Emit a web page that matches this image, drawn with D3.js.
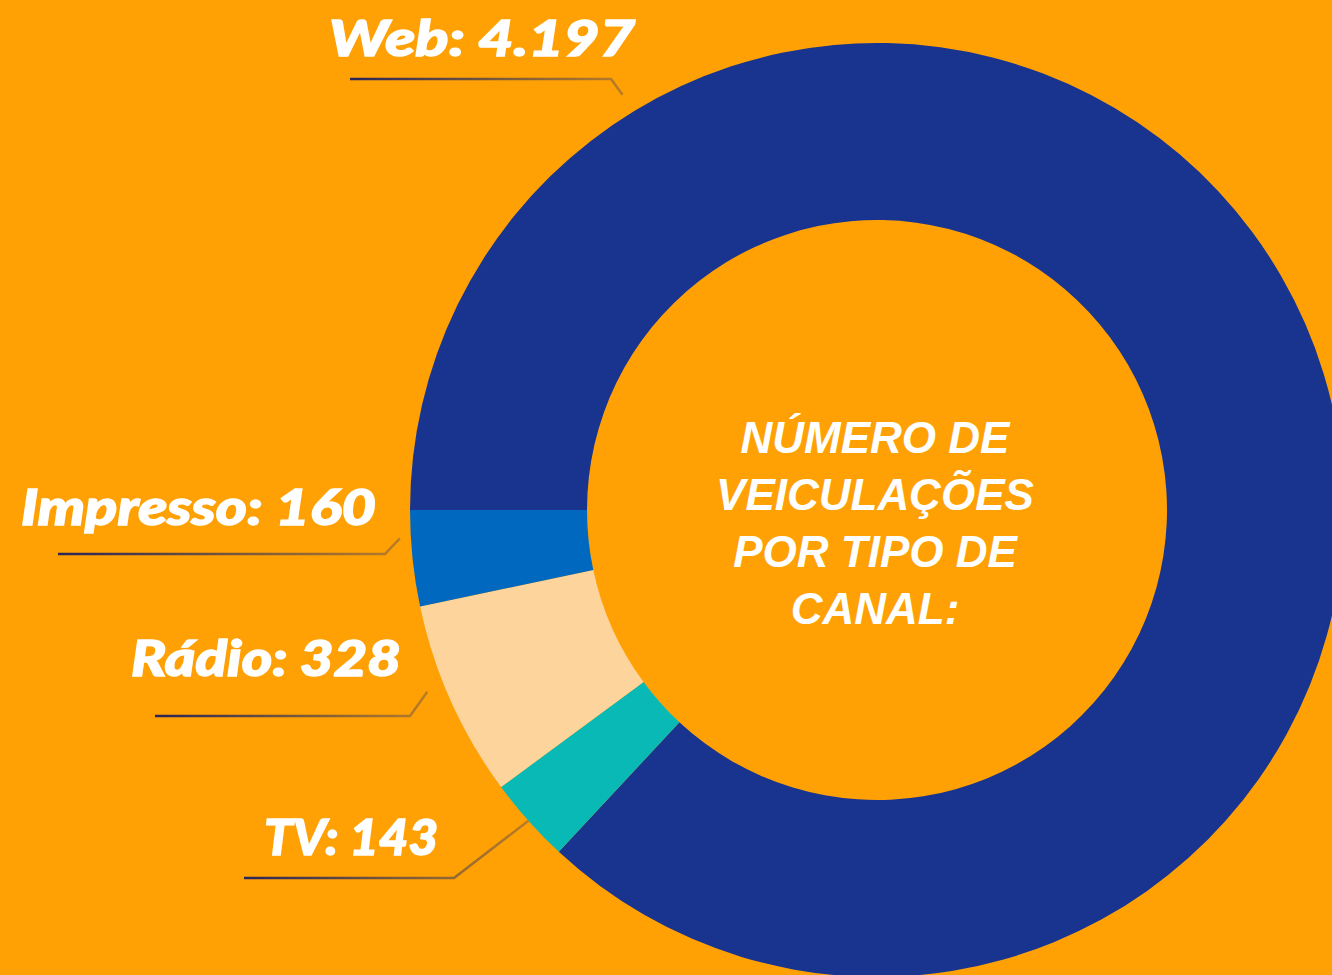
<!DOCTYPE html>
<html>
<head>
<meta charset="utf-8">
<script src="https://cdn.jsdelivr.net/npm/d3@7"></script>
<style>
  html, body { margin: 0; padding: 0; background: #FFA105; overflow: hidden; }
  .slice-label { font-family: Lato, "Open Sans", sans-serif; font-weight: 900; font-style: italic; fill: #fff; stroke: #fff; stroke-width: 1.4px; }
  .center-label { font-family: "Liberation Sans", Arial, sans-serif; font-weight: 700; font-style: italic; fill: #fff; }
</style>
</head>
<body>
<div id="viz"></div>
<script>
const width = 1332;
const height = 975;

// Data
const channels = ['Web', 'TV', 'Rádio', 'Impresso'];
const counts = [4197, 143, 328, 160];
const colors = ['#18348F', '#09B9B5', '#FDD49B', '#0069BF'];
const valueLabels = ['4.197', '143', '328', '160'];
const centerLines = ['NÚMERO DE', 'VEICULAÇÕES', 'POR TIPO DE', 'CANAL:'];

const center = {x: 877, y: 510};
const outerRadius = 467;
const innerRadius = 290;

// label layout: text right edge, text width, baseline, leader y, leader start x, elbow x, anchor angle override
const labelLayout = {
  'Web':      {x: 635, w: 306, y: 56,  lineY: 79,  lineStart: 350, elbow: 611, angle: -31.5, r: 487},
  'TV':       {x: 438, w: 174, y: 855, lineY: 878, lineStart: 244, elbow: 454, angle: null,  r: 467},
  'Rádio':    {x: 401, w: 270, y: 676, lineY: 716, lineStart: 155, elbow: 410, angle: -112,  r: 485},
  'Impresso': {x: 376, w: 355, y: 525, lineY: 554, lineStart: 58,  elbow: 385, angle: -93.4, r: 478}
};

const data = channels.map((c, i) => ({channel: c, count: counts[i], color: colors[i], label: valueLabels[i]}));

const pie = d3.pie()
  .value(d => d.count)
  .sort(null)
  .startAngle(-Math.PI / 2)
  .endAngle(Math.PI * 1.5);

const arc = d3.arc()
  .innerRadius(innerRadius)
  .outerRadius(outerRadius);

const svg = d3.select('#viz')
  .append('svg')
    .attr('width', width)
    .attr('height', height)
    .attr('viewBox', `0 0 ${width} ${height}`);

svg.append('rect')
  .attr('width', width)
  .attr('height', height)
  .attr('fill', '#FFA105');

const defs = svg.append('defs');
const grad = defs.append('linearGradient')
  .attr('id', 'leader-grad')
  .attr('x1', '0%').attr('x2', '100%')
  .attr('y1', '0%').attr('y2', '0%');
grad.append('stop').attr('offset', '0%').attr('stop-color', '#2B2458');
grad.append('stop').attr('offset', '55%').attr('stop-color', '#7A5A3A');
grad.append('stop').attr('offset', '100%').attr('stop-color', '#B97C27');

const arcs = pie(data);

// Donut slices
svg.append('g')
    .attr('class', 'slices')
    .attr('transform', `translate(${center.x}, ${center.y})`)
  .selectAll('path')
  .data(arcs)
  .join('path')
    .attr('d', arc)
    .attr('fill', d => d.data.color);

// Leader lines + labels
const labelGroup = svg.append('g').attr('class', 'labels');

arcs.forEach(a => {
  const lay = labelLayout[a.data.channel];
  const ang = lay.angle !== null ? lay.angle * Math.PI / 180 : (a.startAngle + a.endAngle) / 2;
  const ax = center.x + lay.r * Math.sin(ang);
  const ay = center.y - lay.r * Math.cos(ang);

  labelGroup.append('path')
    .attr('d', d3.line()([[lay.lineStart, lay.lineY], [lay.elbow, lay.lineY], [ax, ay]]))
    .attr('fill', 'none')
    .attr('stroke', 'url(#leader-grad)')
    .attr('stroke-width', 2.5)
    .attr('stroke-linejoin', 'miter');

  labelGroup.append('text')
    .attr('class', 'slice-label')
    .attr('x', lay.x - lay.w)
    .attr('y', lay.y)
    .attr('textLength', lay.w)
    .attr('lengthAdjust', 'spacingAndGlyphs')
    .style('font-size', '49px')
    .text(`${a.data.channel}: ${a.data.label}`);
});

// Center text
svg.append('g')
    .attr('class', 'center-text')
  .selectAll('text')
  .data(centerLines)
  .join('text')
    .attr('class', 'center-label')
    .attr('x', center.x - 2)
    .attr('y', (d, i) => 453 + i * 57)
    .attr('text-anchor', 'middle')
    .style('font-size', '44px')
    .text(d => d);
</script>
</body>
</html>
